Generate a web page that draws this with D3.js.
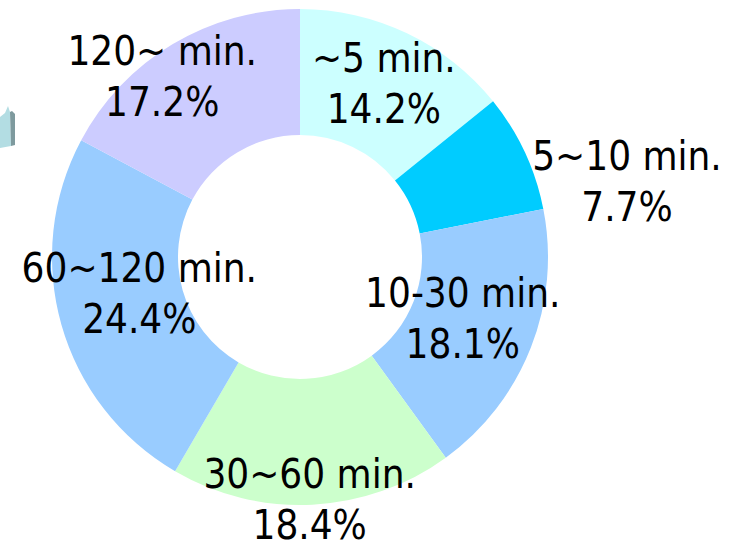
<!DOCTYPE html>
<html>
<head>
<meta charset="utf-8">
<script src="https://cdn.jsdelivr.net/npm/d3@7"></script>
<style>
  html, body { margin: 0; padding: 0; background: #ffffff; }
  svg { display: block; }
</style>
</head>
<body>
<svg id="chart" width="740" height="543"></svg>
<script>
// ---- data ----
const categories = ["~5 min.", "5~10 min.", "10-30 min.", "30~60 min.", "60~120 min.", "120~ min."];
const values = [14.2, 7.7, 18.1, 18.4, 24.4, 17.2];
const colors = ["#CCFFFF", "#00CCFF", "#99CCFF", "#CCFFCC", "#99CCFF", "#CCCCFF"];

// ---- layout (not data) ----
const width = 740, height = 543;
const cx = 300, cy = 257;
const outerR = 248, innerR = 122, labelR = 192;
// manual label nudges relative to each slice's label centroid (first baseline)
const labelNudge = [[1, -12], [153, -6], [-16, -20], [0, 39], [24, -27], [-39, -27]];
const lineGap = 51;

const svg = d3.select("#chart");

// small decorative leftover shape at left edge
svg.append("polygon")
  .attr("points", "0,117 5,113 8,106 10,112 11,146 0,148")
  .attr("fill", "#B3DDE3");
svg.append("polygon")
  .attr("points", "10,112 12,111 15,114 15,145 11,146")
  .attr("fill", "#7E9A9E");

const data = categories.map((c, i) => ({ cat: c, value: values[i], color: colors[i], i }));

const pie = d3.pie().sort(null).value(d => d.value).startAngle(0).endAngle(2 * Math.PI);
const arcs = pie(data);

const arc = d3.arc().innerRadius(innerR).outerRadius(outerR);
const labelArc = d3.arc().innerRadius(labelR).outerRadius(labelR);

const g = svg.append("g").attr("transform", `translate(${cx},${cy})`);

g.selectAll("path.slice")
  .data(arcs)
  .enter().append("path")
  .attr("class", "slice")
  .attr("d", arc)
  .attr("fill", d => d.data.color);

const fmt = d3.format(".1f");
const labels = g.selectAll("text.lbl")
  .data(arcs)
  .enter().append("text")
  .attr("class", "lbl")
  .attr("text-anchor", "middle")
  .attr("font-family", "'DejaVu Sans Condensed', 'DejaVu Sans', sans-serif")
  .style("font-stretch", "condensed")
  .attr("font-size", 40)
  .attr("fill", "#000")
  .attr("transform", d => {
    const [x, y] = labelArc.centroid(d);
    const n = labelNudge[d.data.i];
    return `translate(${x + n[0]},${y + n[1]})`;
  });

labels.append("tspan").attr("x", 0).attr("y", 0).text(d => d.data.cat);
labels.append("tspan").attr("x", 0).attr("y", lineGap).text(d => fmt(d.data.value) + "%");
</script>
</body>
</html>
